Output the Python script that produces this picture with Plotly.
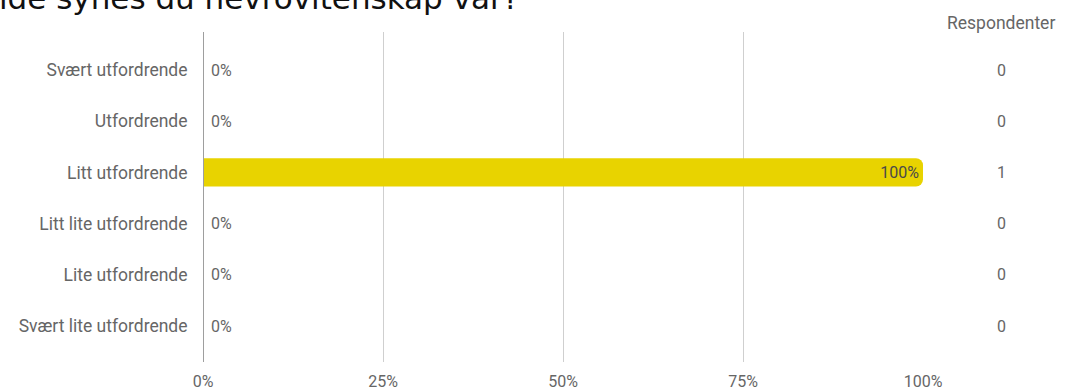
import plotly.graph_objects as go

categories = ["Svært utfordrende", "Utfordrende", "Litt utfordrende",
              "Litt lite utfordrende", "Lite utfordrende", "Svært lite utfordrende"]
percent = [0, 0, 100, 0, 0, 0]
respondents = [0, 0, 1, 0, 0, 0]
x_ticks = [0, 25, 50, 75, 100]
x_tick_labels = ["0%", "25%", "50%", "75%", "100%"]
title_text = "ide synes du nevrovitenskap var?"
count_header = "Respondenter"

W, H = 1069, 391
L, R, T, B = 203, 146, 32, 29
plot_h = H - T - B

FONT = "Roboto, Arial, sans-serif"
GREY = "#666666"
FS_LAB = 17.5
FS_NUM = 16

fig = go.Figure()

fig.add_trace(go.Bar(
    y=categories, x=percent, orientation="h",
    marker=dict(color="#e8d300", line=dict(width=0)),
    width=0.55,
    text=[f"{p}%" if p > 0 else "" for p in percent],
    textposition="inside",
    insidetextanchor="end",
    textfont=dict(family=FONT, size=FS_NUM, color="#4a4a4a"),
    cliponaxis=False,
    hoverinfo="skip",
))

# y range so that category centres land at the reference positions
spacing = 51.2
first_c = 70
top_idx = 0 - (first_c - T) / spacing
bot_idx = top_idx + plot_h / spacing

fig.update_layout(
    width=W, height=H,
    margin=dict(l=L, r=R, t=T, b=B, pad=0),
    plot_bgcolor="white", paper_bgcolor="white",
    showlegend=False,
    barcornerradius=7,
    uniformtext=dict(minsize=8, mode="show"),
    font=dict(family=FONT, size=FS_LAB, color=GREY),
    xaxis=dict(range=[0, 100], tickvals=x_ticks, ticktext=x_tick_labels,
               showgrid=True, gridcolor="#cfcfcf", gridwidth=1,
               zeroline=False, showline=False, automargin=False,
               ticks="outside", ticklen=5, tickcolor="rgba(0,0,0,0)",
               tickfont=dict(family=FONT, size=FS_NUM, color=GREY), fixedrange=True),
    yaxis=dict(categoryorder="array", categoryarray=categories,
               range=[bot_idx, top_idx], showgrid=False, zeroline=False,
               showline=False, automargin=False, ticks="outside", ticklen=11,
               tickcolor="rgba(0,0,0,0)",
               tickfont=dict(family=FONT, size=FS_LAB, color=GREY), fixedrange=True),
)

# darker 0% axis line
fig.add_shape(type="line", xref="x", yref="paper", x0=0, x1=0, y0=0, y1=1,
              line=dict(color="#9e9e9e", width=2), layer="above")

# value labels for bars too short to hold them
for cat, p in zip(categories, percent):
    if p == 0:
        fig.add_annotation(x=p, y=cat, xref="x", yref="y", text=f"{p}%",
                           showarrow=False, xanchor="left", yanchor="middle", xshift=6,
                           font=dict(family=FONT, size=FS_NUM, color=GREY))

def px_to_paper_x(px):
    return (px - L) / (W - L - R)

def px_to_paper_y(py):
    return (H - B - py) / plot_h

# respondent counts column
cx = px_to_paper_x(1001)
fig.add_annotation(x=cx, y=px_to_paper_y(23), xref="paper", yref="paper",
                   text=count_header, showarrow=False, xanchor="center", yanchor="middle",
                   font=dict(family=FONT, size=FS_LAB, color=GREY))
for cat, n in zip(categories, respondents):
    fig.add_annotation(x=cx, y=cat, xref="paper", yref="y", text=str(n),
                       showarrow=False, xanchor="center", yanchor="middle",
                       font=dict(family=FONT, size=FS_NUM, color=GREY))

# title, partially cropped at top
fig.add_annotation(x=px_to_paper_x(-3), y=px_to_paper_y(18), xref="paper", yref="paper",
                   text=title_text, showarrow=False, xanchor="left", yanchor="bottom",
                   font=dict(family="DejaVu Sans, Verdana, sans-serif", size=31, color="#111111"))

fig.write_html("out.html",
               config={"displayModeBar": False, "staticPlot": True},
               post_script="document.body.style.margin='0px';document.body.style.overflow='hidden';")
